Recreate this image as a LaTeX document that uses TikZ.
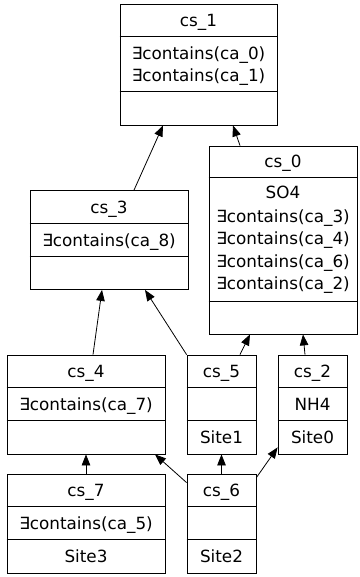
\documentclass[tikz,border=0pt]{standalone}
\usepackage{fontspec}
\setmainfont{DejaVu Sans}
\usetikzlibrary{arrows.meta}
\begin{document}
\begin{tikzpicture}[x=1pt,y=-1pt,line width=0.8pt,
	rec/.style={draw,inner sep=0,minimum height=99},
	txt/.style={inner sep=0,text height=16pt,text depth=4pt,font=\fontsize{16.8}{20}\selectfont},
	edge/.style={-{Triangle[length=11pt,width=8.5pt]}}]
	\useasboundingbox (0,0) rectangle (359,577);
	% records
	\node[rec,minimum width=157,minimum height=121] (cs1) at (198.5,64.5) {};
	\node[rec,minimum width=148,minimum height=188] (cs0) at (283,240) {};
	\node[rec,minimum width=158] (cs3) at (109,240) {};
	\node[rec,minimum width=158] (cs4) at (86,404.5) {};
	\node[rec,minimum width=69] (cs5) at (221.5,404.5) {};
	\node[rec,minimum width=69] (cs2) at (312.5,404.5) {};
	\node[rec,minimum width=158] (cs7) at (86,523.5) {};
	\node[rec,minimum width=69] (cs6) at (221.5,523.5) {};
	\draw ([yshift=-33]cs1.north west)--([yshift=-33]cs1.north east) ([yshift=-88]cs1.north west)--([yshift=-88]cs1.north east);
	\draw ([yshift=-32]cs0.north west)--([yshift=-32]cs0.north east) ([yshift=-156]cs0.north west)--([yshift=-156]cs0.north east);
	\foreach \r in {cs3,cs4,cs5,cs2,cs7,cs6}
	\draw ([yshift=-33]\r.north west)--([yshift=-33]\r.north east) ([yshift=-66]\r.north west)--([yshift=-66]\r.north east);
	% texts
	\node[txt] (t1) at (198.5,20.5) {cs\_1};
	\node[txt] (t1a) at (198.5,54) {∃contains(ca\_0)};
	\node[txt] (t1b) at (198.5,75.5) {∃contains(ca\_1)};
	\node[txt] (t0) at (283,162) {cs\_0};
	\node[txt] (t0a) at (283,193) {SO4};
	\node[txt] (t0b) at (283,216) {∃contains(ca\_3)};
	\node[txt] (t0c) at (283,238.5) {∃contains(ca\_4)};
	\node[txt] (t0d) at (283,261) {∃contains(ca\_6)};
	\node[txt] (t0e) at (283,283) {∃contains(ca\_2)};
	\node[txt] (t3) at (109,207) {cs\_3};
	\node[txt] (t3a) at (109,240) {∃contains(ca\_8)};
	\node[txt] (t4) at (86,371.5) {cs\_4};
	\node[txt] (t4a) at (86,404.5) {∃contains(ca\_7)};
	\node[txt] (t5) at (221.5,371.5) {cs\_5};
	\node[txt] (t5b) at (221.5,437.5) {Site1};
	\node[txt] (t2) at (312.5,371.5) {cs\_2};
	\node[txt] (t2a) at (312.5,404.5) {NH4};
	\node[txt] (t2b) at (312.5,437.5) {Site0};
	\node[txt] (t7) at (86,490.5) {cs\_7};
	\node[txt] (t7a) at (86,523.5) {∃contains(ca\_5)};
	\node[txt] (t7b) at (86,556.5) {Site3};
	\node[txt] (t6) at (221.5,490.5) {cs\_6};
	\node[txt] (t6b) at (221.5,556.5) {Site2};
	% edges
	\draw[edge] ([xshift=25]cs3.north)--([xshift=-35.5]cs1.south);
	\draw[edge] ([xshift=-43]cs0.north)--([xshift=34.5]cs1.south);
	\draw[edge] ([xshift=7]cs4.north)--([xshift=-7]cs3.south);
	\draw[edge] (cs5.north west)--([xshift=36]cs3.south);
	\draw[edge] ([xshift=18.5]cs5.north)--([xshift=-33]cs0.south);
	\draw[edge] ([xshift=-7.5]cs2.north)--([xshift=20]cs0.south);
	\draw[edge] (cs7.north)--(cs4.south);
	\draw[edge] ([yshift=-9]cs6.north west)--([xshift=69]cs4.south);
	\draw[edge] (cs6.north)--(cs5.south);
	\draw[edge] ([yshift=-4]cs6.north east)--([yshift=7]cs2.south west);
\end{tikzpicture}
\end{document}
